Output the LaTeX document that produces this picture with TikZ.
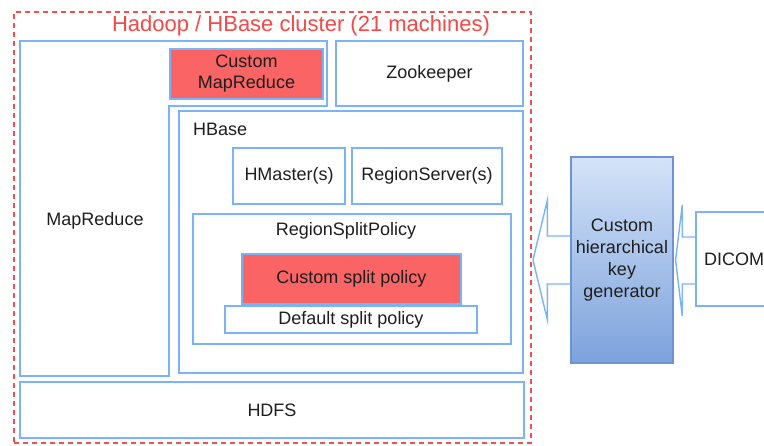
\documentclass[tikz,border=0pt]{standalone}
\usepackage{fontspec}
\setmainfont{Liberation Sans}
\usetikzlibrary{calc}
\definecolor{boxblue}{RGB}{122,180,246}
\definecolor{hotred}{RGB}{250,100,100}
\definecolor{dashred}{RGB}{240,80,80}
\definecolor{titlered}{RGB}{246,72,72}
\definecolor{inkgray}{RGB}{30,30,30}
\definecolor{genedge}{RGB}{108,148,210}
\definecolor{gentop}{RGB}{212,227,248}
\definecolor{genbot}{RGB}{124,162,220}
\tikzset{
  every node/.style={text=inkgray, font=\fontsize{18}{22}\selectfont},
  bluebox/.style={draw=boxblue, line width=1.5pt, fill=white, inner sep=0pt, align=center},
  redbox/.style={bluebox, fill=hotred},
  clusterbox/.style={draw=dashred, line width=2pt, dash pattern=on 5pt off 4pt, inner sep=0pt},
  genbox/.style={draw=genedge, line width=1.2pt, top color=gentop, bottom color=genbot,
    inner sep=0pt, align=center},
  hollowarrow/.style={draw=boxblue, line width=1.4pt, line join=miter},
  label/.style={inner sep=0pt},
}
\begin{document}
\begin{tikzpicture}[x=1pt, y=-1pt]
  \fill[white] (0,0) rectangle (764,445);
  \clip (0,0) rectangle (764,445);

  % cluster frame and its title
  \node[clusterbox, minimum width=517pt, minimum height=431pt] (cluster) at (272.5,227.5) {};
  \node[label, anchor=base, text=titlered, font=\fontsize{22}{26}\selectfont] (title) at (301,31) {Hadoop / HBase cluster (21 machines)};

  % MapReduce: L-shaped region wrapping round HBase
  \draw[draw=boxblue, line width=1.5pt] (20,41) -- (327,41) -- (327,106) -- (169,106) -- (169,376) -- (20,376) -- cycle;
  \node[label] (mapreduce) at (95,221) {MapReduce};
  \node[redbox, minimum width=153pt, minimum height=50pt] (custommr) at (246.5,74) {Custom\\[-1pt]MapReduce};

  \node[bluebox, minimum width=187pt, minimum height=65pt] (zookeeper) at (429.5,73.5) {Zookeeper};

  % HBase and its parts
  \node[bluebox, minimum width=344pt, minimum height=262pt] (hbase) at (351,242) {};
  \node[label, anchor=west] (hbaselabel) at (193,129) {HBase};
  \node[bluebox, minimum width=112pt, minimum height=56pt] (hmaster) at (289,176) {HMaster(s)};
  \node[bluebox, minimum width=150pt, minimum height=56pt] (regionserver) at (427,176) {RegionServer(s)};
  \node[bluebox, minimum width=318pt, minimum height=130pt] (splitpolicy) at (352,279) {};
  \node[label] (splitlabel) at (346,231) {RegionSplitPolicy};
  \node[redbox, minimum width=219pt, minimum height=50pt] (customsplit) at (351.5,279) {Custom split policy};
  \node[bluebox, minimum width=252pt, minimum height=27pt] (defaultsplit) at (351,319.5) {Default split policy};

  \node[bluebox, minimum width=504pt, minimum height=56pt] (hdfs) at (272,410) {HDFS};

  % key generator and data source
  \node[genbox, minimum width=102pt, minimum height=206pt] (keygen) at (622,260) {Custom\\hierarchical\\key\\generator};
  \node[bluebox, minimum width=104pt, minimum height=94pt] (dicom) at (748,259) {};
  \node[label, anchor=west] (dicomlabel) at (704,259) {DICOM};

  % hollow block arrows
  \draw[hollowarrow] ($(keygen.west)+(0,-24)$) -- ++(-23,0) -- ++(0,-36)
    -- ($(cluster.east |- keygen.west)+(1,0)$)
    -- ($(keygen.west)+(-23,60)$) -- ++(0,-36) -- ++(23,0);
  \draw[hollowarrow] ($(dicom.west |- keygen.east)+(0,-23)$) -- ++(-13,0) -- ++(0,-32)
    -- ($(keygen.east)+(2,0)$)
    -- ($(dicom.west |- keygen.east)+(-13,56)$) -- ++(0,-32) -- ++(13,0);
\end{tikzpicture}
\end{document}
